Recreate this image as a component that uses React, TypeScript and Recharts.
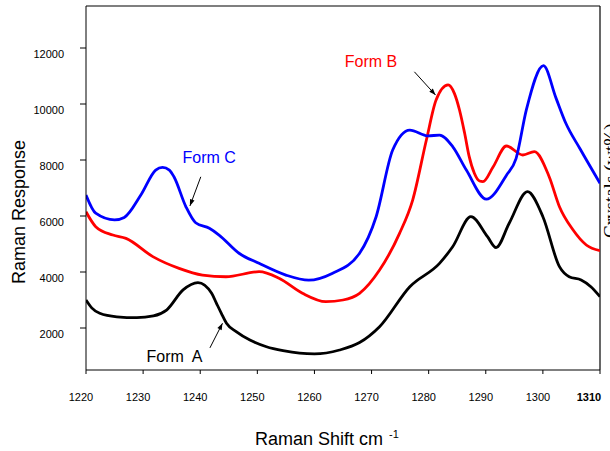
import React from "react";
import {
  LineChart,
  Line,
  XAxis,
  YAxis,
  ReferenceLine,
  ReferenceDot,
} from "recharts";

// Raman shift (cm-1) and response for the three crystal forms
const formAShift = [
  1220, 1221, 1222.4, 1225.4, 1228.9, 1231.8, 1234.1, 1237, 1239.6, 1242,
  1242.85, 1243.7, 1244.6, 1246.3, 1248.7, 1251.6, 1254.5, 1257.4, 1260,
  1264.4, 1267.9, 1271.4, 1276.7, 1281.9, 1284.2, 1287.4, 1290.3, 1291.8,
  1294.1, 1297.3, 1300, 1302.9, 1304.6, 1306.7, 1308.4, 1310,
];
const formAResponse = [
  3000, 2720, 2525, 2400, 2370, 2430, 2640, 3360, 3620, 3240, 2880, 2525, 2170,
  1870, 1570, 1330, 1190, 1100, 1075, 1214, 1480, 2046, 3475, 4310, 4900, 5975,
  5260, 4870, 5740, 6870, 5975, 4190, 3830, 3714, 3475, 3118,
];

const formBShift = [
  1220, 1221.7, 1224.7, 1227, 1231.7, 1236.3, 1240.4, 1244.5, 1250.3, 1253.8,
  1257.9, 1262, 1265, 1267.9, 1271.4, 1274.9, 1277.2, 1279.6, 1281.3, 1283.4,
  1284.5, 1285.4, 1286.3, 1287.1, 1288, 1288.9, 1289.5, 1291.3, 1293.6,
  1296.5, 1298.5, 1301.1, 1302.9, 1305.2, 1307.6, 1310,
];
const formBResponse = [
  6150, 5620, 5320, 5200, 4550, 4130, 3890, 3830, 4010, 3775, 3240, 2940, 3000,
  3240, 4070, 5380, 6570, 8714, 10143, 10680, 10380, 9786, 8954, 8118, 7525,
  7250, 7230, 7761, 8500, 8179, 8298, 7404, 6332, 5525, 4965, 4760,
];

const formCShift = [
  1220, 1221.7, 1225, 1226.7, 1229.6, 1232.2, 1233.4, 1234.6, 1235.4, 1237.5,
  1239.2, 1241.6, 1243.3, 1246.8, 1250.3, 1255, 1259, 1263.1, 1267.9, 1270.8,
  1273.7, 1276.7, 1279.9, 1281.9, 1284.2, 1286.6, 1290.1, 1293.6, 1295.3,
  1297.1, 1300.1, 1302.3, 1304, 1306.5, 1310,
];
const formCResponse = [
  6750, 6100, 5860, 5950, 6750, 7640, 7740, 7640, 7400, 6330, 5760, 5560, 5320,
  4670, 4310, 3890, 3710, 3950, 4670, 5975, 8357, 9070, 8860, 8890, 8480, 7640,
  6600, 7450, 8050, 9790, 11370, 10210, 9320, 8400, 7170,
];

const shiftTicks = [1220, 1230, 1240, 1250, 1260, 1270, 1280, 1290, 1300, 1310];
const responseTicks = [2000, 4000, 6000, 8000, 10000, 12000];

const SANS = "'Liberation Sans', Arial, sans-serif";

const toPoints = (xs: number[], ys: number[]) =>
  xs.map((shift, i) => ({ shift, response: ys[i] }));

const formA = toPoints(formAShift, formAResponse);
const formB = toPoints(formBShift, formBResponse);
const formC = toPoints(formCShift, formCResponse);

// callouts: text anchor and arrow (tail -> head) in data units
const callouts = [
  {
    text: "Form  A",
    color: "#000",
    at: { x: 1230.6, y: 790 },
    arrow: [
      { x: 1241.7, y: 1290 },
      { x: 1243.9, y: 2170 },
    ],
  },
  {
    text: "Form B",
    color: "#ff0000",
    at: { x: 1265.3, y: 11320 },
    arrow: [
      { x: 1277.5, y: 11150 },
      { x: 1281.2, y: 10320 },
    ],
  },
  {
    text: "Form C",
    color: "#0000ff",
    at: { x: 1236.9, y: 7890 },
    arrow: [
      { x: 1240.1, y: 7400 },
      { x: 1238.2, y: 6360 },
    ],
  },
];

const ShiftTick = (props: any) => {
  const { x, y, payload } = props;
  const last = payload.value === 1310;
  return (
    <text
      x={x - 5}
      y={y}
      dy="0.71em"
      textAnchor="middle"
      fontFamily={SANS}
      fontSize={11}
      fontWeight={last ? "bold" : "normal"}
      fill="#000"
    >
      {payload.value}
    </text>
  );
};

const ResponseTick = (props: any) => {
  const { x, y, payload } = props;
  return (
    <text
      x={x}
      y={y}
      dy={10}
      textAnchor="end"
      fontFamily={SANS}
      fontSize={11}
      fill="#000"
    >
      {payload.value}
    </text>
  );
};

const arrowShape = (props: any) => {
  const { x1, y1, x2, y2 } = props;
  const ang = Math.atan2(y2 - y1, x2 - x1);
  const len = 7;
  const spread = 0.35;
  const p1 = [x2 - len * Math.cos(ang - spread), y2 - len * Math.sin(ang - spread)];
  const p2 = [x2 - len * Math.cos(ang + spread), y2 - len * Math.sin(ang + spread)];
  return (
    <g>
      <line x1={x1} y1={y1} x2={x2} y2={y2} stroke="#000" strokeWidth={1} />
      <polygon
        points={`${x2},${y2} ${p1[0]},${p1[1]} ${p2[0]},${p2[1]}`}
        fill="#000"
      />
    </g>
  );
};

const calloutText = (text: string, color: string) => (props: any) => (
  <text
    x={props.cx}
    y={props.cy}
    fontFamily={SANS}
    fontSize={16}
    fill={color}
    style={{ whiteSpace: "pre" }}
  >
    {text}
  </text>
);

export default function App() {
  return (
    <div style={{ position: "absolute", left: 0, top: 0 }}>
      <LineChart
        width={610}
        height={451}
        margin={{ top: 6, right: 10, bottom: 0, left: 0 }}
      >
        <XAxis
          dataKey="shift"
          type="number"
          domain={[1220, 1310]}
          ticks={shiftTicks}
          allowDataOverflow
          height={81}
          tickSize={4}
          tickMargin={19}
          stroke="#000"
          tick={<ShiftTick />}
          label={{
            content: (p: any) => {
              const vb = p.viewBox;
              return (
                <text
                  x={vb.x + 169}
                  y={vb.y + 75}
                  fontFamily={SANS}
                  fontSize={18}
                  fill="#000"
                >
                  Raman Shift cm
                  <tspan dx={6} dy={-7} fontSize={11}>
                    -1
                  </tspan>
                </text>
              );
            },
          }}
        />
        <YAxis
          type="number"
          domain={[500, 13500]}
          ticks={responseTicks}
          allowDataOverflow
          width={86}
          tickSize={6}
          tickMargin={16}
          stroke="#000"
          tick={<ResponseTick />}
          label={{
            content: (p: any) => {
              const vb = p.viewBox;
              const cx = vb.x + 25;
              const cy = vb.y + vb.height / 2 + 24;
              return (
                <text
                  x={cx}
                  y={cy}
                  transform={`rotate(-90, ${cx}, ${cy})`}
                  textAnchor="middle"
                  fontFamily={SANS}
                  fontSize={18}
                  fill="#000"
                >
                  Raman Response
                </text>
              );
            },
          }}
        />

        {/* frame: top edge and right edge */}
        <ReferenceLine y={13500} stroke="#000" strokeWidth={1.2} />
        <ReferenceLine
          x={1310}
          stroke="#000"
          strokeWidth={1.2}
          label={{
            content: (p: any) => {
              const vb = p.viewBox;
              const tx = vb.x + 17;
              const ty = vb.y + 232;
              return (
                <text
                  x={tx}
                  y={ty}
                  transform={`rotate(-90, ${tx}, ${ty})`}
                  fontFamily="'Liberation Serif', 'Times New Roman', serif"
                  fontSize={19}
                  fill="#000"
                >
                  Crystals (wt%)
                </text>
              );
            },
          }}
        />

        <Line
          data={formA}
          dataKey="response"
          type="monotone"
          stroke="#000000"
          strokeWidth={2.8}
          dot={false}
          isAnimationActive={false}
        />
        <Line
          data={formB}
          dataKey="response"
          type="monotone"
          stroke="#ff0000"
          strokeWidth={2.8}
          dot={false}
          isAnimationActive={false}
        />
        <Line
          data={formC}
          dataKey="response"
          type="monotone"
          stroke="#0000ff"
          strokeWidth={2.8}
          dot={false}
          isAnimationActive={false}
        />

        {callouts.map((c) => (
          <ReferenceLine
            key={`arrow-${c.text}`}
            segment={c.arrow}
            shape={arrowShape}
          />
        ))}
        {callouts.map((c) => (
          <ReferenceDot
            key={`text-${c.text}`}
            x={c.at.x}
            y={c.at.y}
            shape={calloutText(c.text, c.color)}
          />
        ))}
      </LineChart>
    </div>
  );
}
